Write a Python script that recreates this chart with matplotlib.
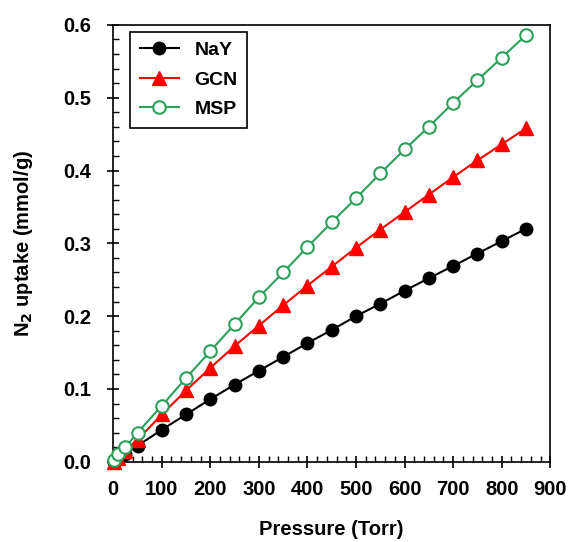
import numpy as np
import matplotlib.pyplot as plt
from matplotlib.ticker import MultipleLocator

plt.rcParams['font.family'] = ['Liberation Sans', 'DejaVu Sans']
plt.rcParams['font.weight'] = 'bold'

pressure = [1, 10, 25, 50, 100, 150, 200, 250, 300, 350, 400, 450,
            500, 550, 600, 650, 700, 750, 800, 850]
nay = [0.0, 0.004, 0.011, 0.022, 0.044, 0.065, 0.086, 0.106, 0.125, 0.144,
       0.163, 0.181, 0.200, 0.217, 0.235, 0.252, 0.269, 0.286, 0.303, 0.320]
gcn = [0.0, 0.005, 0.015, 0.030, 0.065, 0.098, 0.129, 0.159, 0.187, 0.215,
       0.242, 0.268, 0.294, 0.319, 0.343, 0.367, 0.391, 0.414, 0.436, 0.458]
msp = [0.003, 0.011, 0.020, 0.040, 0.077, 0.115, 0.152, 0.189, 0.226, 0.260,
       0.295, 0.329, 0.362, 0.396, 0.429, 0.460, 0.493, 0.524, 0.555, 0.586]

fs = 14.5

fig, ax = plt.subplots(figsize=(5.69, 5.42), dpi=100)
fig.subplots_adjust(left=0.199, right=0.967, top=0.954, bottom=0.148)

ax.plot(pressure, nay, color='black', marker='o', markersize=9,
        linewidth=1.5, label='NaY', clip_on=False, zorder=3)
ax.plot(pressure, gcn, color='red', marker='^', markersize=10,
        linewidth=1.5, label='GCN', clip_on=False, zorder=3)
ax.plot(pressure, msp, color='#2ca05a', marker='o', markersize=9,
        markerfacecolor='white', markeredgewidth=1.5,
        linewidth=1.5, label='MSP', clip_on=False, zorder=4)

ax.set_xlim(0, 900)
ax.set_ylim(0, 0.6)
ax.xaxis.set_major_locator(MultipleLocator(100))
ax.xaxis.set_minor_locator(MultipleLocator(20))
ax.yaxis.set_major_locator(MultipleLocator(0.1))
ax.yaxis.set_minor_locator(MultipleLocator(0.02))
ax.yaxis.set_major_formatter(plt.FuncFormatter(lambda v, p: f'{v:.1f}'))

ax.tick_params(which='major', direction='inout', length=8, width=1.2,
               labelsize=fs)
ax.tick_params(axis='x', which='major', pad=9)
ax.tick_params(axis='y', which='major', pad=12)
ax.tick_params(which='minor', direction='in', length=4, width=1.0)
for s in ax.spines.values():
    s.set_linewidth(1.2)

ax.set_xlabel('Pressure (Torr)', fontsize=fs, fontweight='bold', labelpad=15)
ax.set_ylabel('N$_2$ uptake (mmol/g)', fontsize=fs, fontweight='bold', labelpad=20)

leg = ax.legend(loc='upper left', bbox_to_anchor=(0.039, 0.984), fontsize=14,
                fancybox=False, edgecolor='black', framealpha=1,
                handlelength=2.0, handletextpad=0.8, borderpad=0.5,
                labelspacing=0.6, borderaxespad=0)
leg.get_frame().set_linewidth(1.2)

plt.savefig('out.png', dpi=100)
